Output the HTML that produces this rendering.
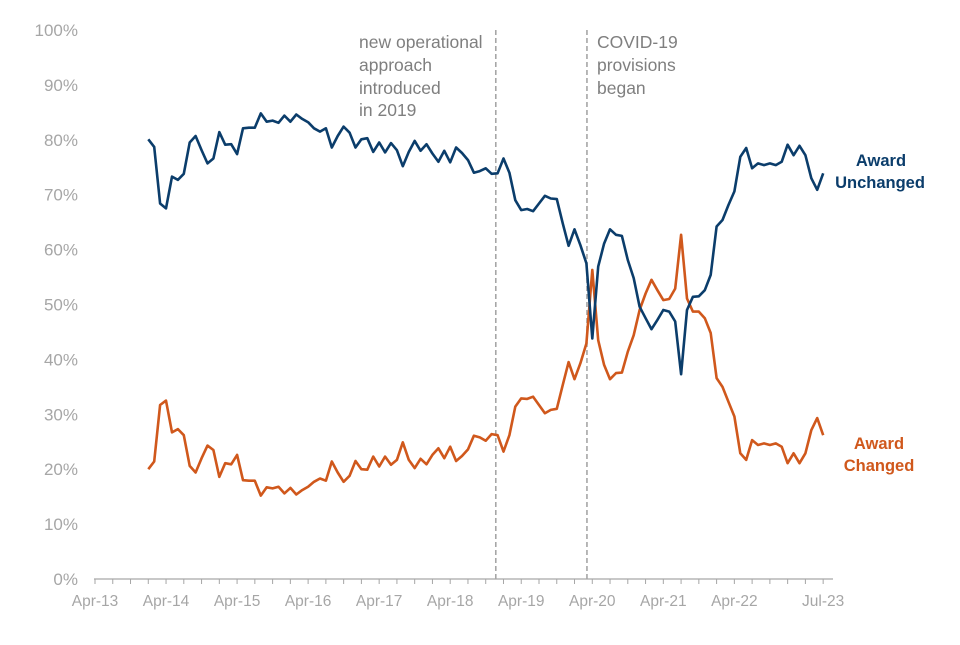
<!DOCTYPE html>
<html><head><meta charset="utf-8"><style>
body{margin:0;background:#fff;font-family:"Liberation Sans",Arial,sans-serif;}
svg text{font-family:"Liberation Sans",Arial,sans-serif;}
</style></head><body>
<svg id="chart" width="960" height="640">
<g id="axes"></g><g id="series"></g>
<g fill="#7f7f7f" font-size="17.5">
<text x="359" y="48">new operational</text><text x="359" y="71">approach</text><text x="359" y="94">introduced</text><text x="359" y="116">in 2019</text></g>
<g fill="#7f7f7f" font-size="17.5">
<text x="597" y="48">COVID-19</text><text x="597" y="71">provisions</text><text x="597" y="94">began</text></g>
<g fill="#0b3d6b" font-size="16.5" font-weight="bold" text-anchor="middle">
<text x="881" y="166">Award</text><text x="880" y="188">Unchanged</text></g>
<g fill="#d0581c" font-size="16.5" font-weight="bold" text-anchor="middle">
<text x="879" y="449">Award</text><text x="879" y="471">Changed</text></g>
</svg>
<script>
const startMonth = 9; // months after Apr-13 (Jan-14)
const unchanged = [80.1,78.7,68.4,67.5,73.3,72.7,73.8,79.5,80.7,78.1,75.7,76.6,81.4,79.1,79.2,77.4,82.1,82.2,82.2,84.8,83.3,83.5,83.1,84.4,83.3,84.6,83.8,83.2,82.1,81.5,82.1,78.6,80.7,82.4,81.3,78.6,80.1,80.3,77.8,79.5,77.7,79.4,78.1,75.2,77.8,79.8,78.0,79.2,77.5,76.0,78.0,75.9,78.6,77.6,76.3,74.0,74.3,74.8,73.8,
73.9,76.6,74.0,69.0,67.2,67.4,67.0,68.4,69.8,69.3,69.2,64.8,60.7,63.7,60.8,57.5,43.8,56.9,61.1,63.7,62.7,62.5,58.1,54.8,49.6,47.5,45.5,47.2,49.0,48.7,46.9,37.3,49.0,51.4,51.5,52.6,55.4,64.2,65.4,68.1,70.6,76.9,78.5,74.8,75.7,75.4,75.7,75.4,76.0,79.1,77.2,78.9,77.2,73.0,70.9,73.9];
const changed = [20.0,21.4,31.7,32.5,26.7,27.3,26.2,20.6,19.4,22.0,24.3,23.5,18.6,21.1,20.9,22.6,18.0,17.9,17.9,15.2,16.7,16.5,16.8,15.6,16.6,15.4,16.2,16.8,17.7,18.3,17.9,21.4,19.4,17.7,18.8,21.5,20.0,19.9,22.3,20.5,22.3,20.8,21.7,24.9,21.7,20.2,21.9,20.9,22.6,23.8,22.0,24.1,21.5,22.4,23.6,26.1,25.8,25.2,26.4,
26.2,23.2,26.2,31.4,32.9,32.8,33.2,31.7,30.2,30.8,31.0,35.3,39.5,36.4,39.3,42.9,56.3,43.5,39.0,36.4,37.5,37.6,41.4,44.4,49.0,52.0,54.5,52.6,50.8,51.0,52.9,62.7,51.1,48.7,48.7,47.5,44.8,36.6,35.0,32.3,29.6,22.9,21.7,25.3,24.4,24.7,24.4,24.7,24.1,21.1,22.9,21.1,22.9,27.1,29.3,26.2];
const yTicks = [0,10,20,30,40,50,60,70,80,90,100];
const xTickLabels = ["Apr-13","Apr-14","Apr-15","Apr-16","Apr-17","Apr-18","Apr-19","Apr-20","Apr-21","Apr-22","Jul-23"];
const xTickMonths = [0,12,24,36,48,60,72,84,96,108,123];
const eventMonths = [67.7,83.1];

const NS="http://www.w3.org/2000/svg";
const x = m => 95 + m*5.92;
const y = v => 579 - v*5.49;
function mk(tag, attrs, parent){const e=document.createElementNS(NS,tag);for(const k in attrs)e.setAttribute(k,attrs[k]);parent.appendChild(e);return e;}
const axes=document.getElementById('axes'), ser=document.getElementById('series');
yTicks.forEach(t=>{
  const tx=mk('text',{x:78,y:y(t)+6,'text-anchor':'end','font-size':17,fill:'#a6a6a6'},axes);
  tx.textContent=t+'%';
  
  
});
const xl=mk('line',{x1:94,y1:579,x2:833,y2:579,stroke:'#a6a6a6','stroke-width':1.3},axes);


for(let m=0;m<=123;m+=3){
  const tk=mk('line',{x1:x(m),y1:579,x2:x(m),y2:584,stroke:'#a6a6a6','stroke-width':1},axes);
  
  
}
xTickLabels.forEach((l,i)=>{
  const tx=mk('text',{x:x(xTickMonths[i]),y:606,'text-anchor':'middle','font-size':15.5,fill:'#a6a6a6'},axes);
  tx.textContent=l;
  
  
});
eventMonths.forEach(m=>{
  const ln=mk('line',{x1:x(m),y1:30,x2:x(m),y2:579,stroke:'#a6a6a6','stroke-width':1.6,'stroke-dasharray':'5,3'},axes);
  
  
});
function line(vals,color,name){
  const pts=vals.map((v,i)=>x(startMonth+i).toFixed(1)+','+y(v).toFixed(1)).join(' ');
  const p=mk('polyline',{points:pts,fill:'none',stroke:color,'stroke-width':2.6,'stroke-linejoin':'round'},ser);
  
  
}
line(changed,'#d0581c','award-changed-line');
line(unchanged,'#0b3d6b','award-unchanged-line');
</script>
</body></html>
